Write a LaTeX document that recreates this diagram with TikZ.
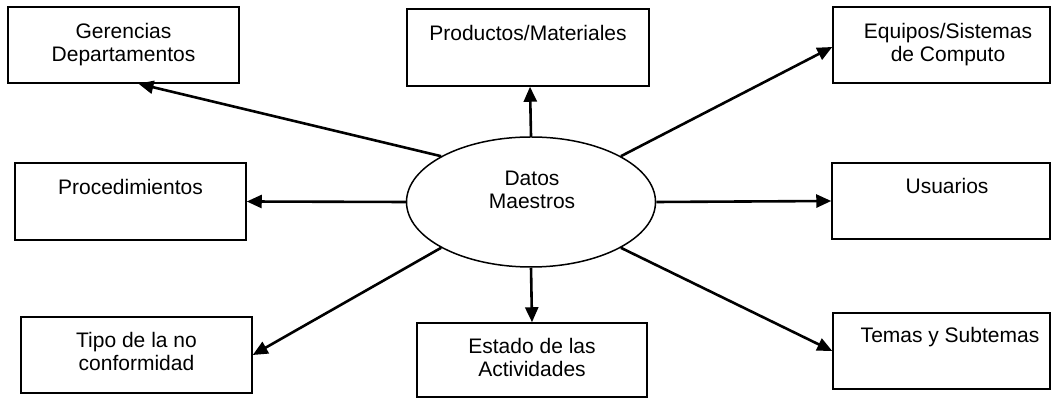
\documentclass[tikz,border=0pt]{standalone}
\usepackage{fontspec}
\setmainfont{Liberation Sans}
\usetikzlibrary{positioning,calc,arrows.meta,shapes.geometric}

\begin{document}
\begin{tikzpicture}[x=0.5pt, y=-0.5pt,
    box/.style={draw, line width=0.75pt, inner sep=0pt, minimum width=115.5pt, minimum height=38pt},
    lbl/.style={inner sep=0pt, align=center, font=\fontsize{10.5}{11.5}\selectfont},
    link/.style={-{Triangle[length=7.5pt,width=6.5pt]}, line width=1.3pt}]
  \useasboundingbox (0,0) rectangle (1052,399);
  % CENTRE
  \node[draw, ellipse, line width=0.75pt, inner sep=0pt, minimum width=124.5pt, minimum height=65pt] (dm) at (531,202) {};
  \node[lbl, anchor=north] (dmt) at (532,171) {Datos\\Maestros};
  % TOP ROW
  \node[box] (ger) at (123.5,45) {};
  \node[box, minimum width=121pt, minimum height=38.5pt] (pm) at (528,47.5) {};
  \node[box, minimum width=108.5pt] (eq) at (941.5,45) {};
  \node[lbl, below=8.2pt of ger.north] (gert) {Gerencias\\Departamentos};
  \node[lbl, below=8.2pt of pm.north] (pmt) {Productos/Materiales};
  \node[lbl, below=8.2pt of eq.north, xshift=3.25pt] (eqt) {Equipos/Sistemas\\de Computo};
  % MIDDLE ROW
  \node[box, minimum height=38.5pt] (pr) at (130.5,201.5) {};
  \node[box, minimum width=109pt] (us) at (941,201) {};
  \node[lbl, below=8.2pt of pr.north] (prt) {Procedimientos};
  \node[lbl, below=7.8pt of us.north, xshift=3pt] (ust) {Usuarios};
  % BOTTOM ROW
  \node[box] (ti) at (136.5,355) {};
  \node[box, minimum width=115pt, minimum height=37pt] (es) at (532,360) {};
  \node[box, minimum width=108.5pt] (te) at (941.5,351) {};
  \node[lbl, below=7.8pt of ti.north] (tit) {Tipo de la no\\conformidad};
  \node[lbl, below=7.8pt of es.north] (est) {Estado de las\\Actividades};
  \node[lbl, below=7.3pt of te.north, xshift=4.25pt] (tet) {Temas y Subtemas};
  % -- arrows
  \draw[link] (dm.153) -- ($(ger.south)+(15,0)$);
  \draw[link] (dm.north) -- ($(pm.south)+(2,0)$);
  \draw[link] (dm.27) -- ($(eq.west)+(0,2)$);
  \draw[link] (dm.west) -- (pr.east);
  \draw[link] (dm.east) -- (us.west);
  \draw[link] (dm.207) -- (ti.east);
  \draw[link] (dm.south) -- (es.north);
  \draw[link] (dm.333) -- (te.west);
\end{tikzpicture}
\end{document}
